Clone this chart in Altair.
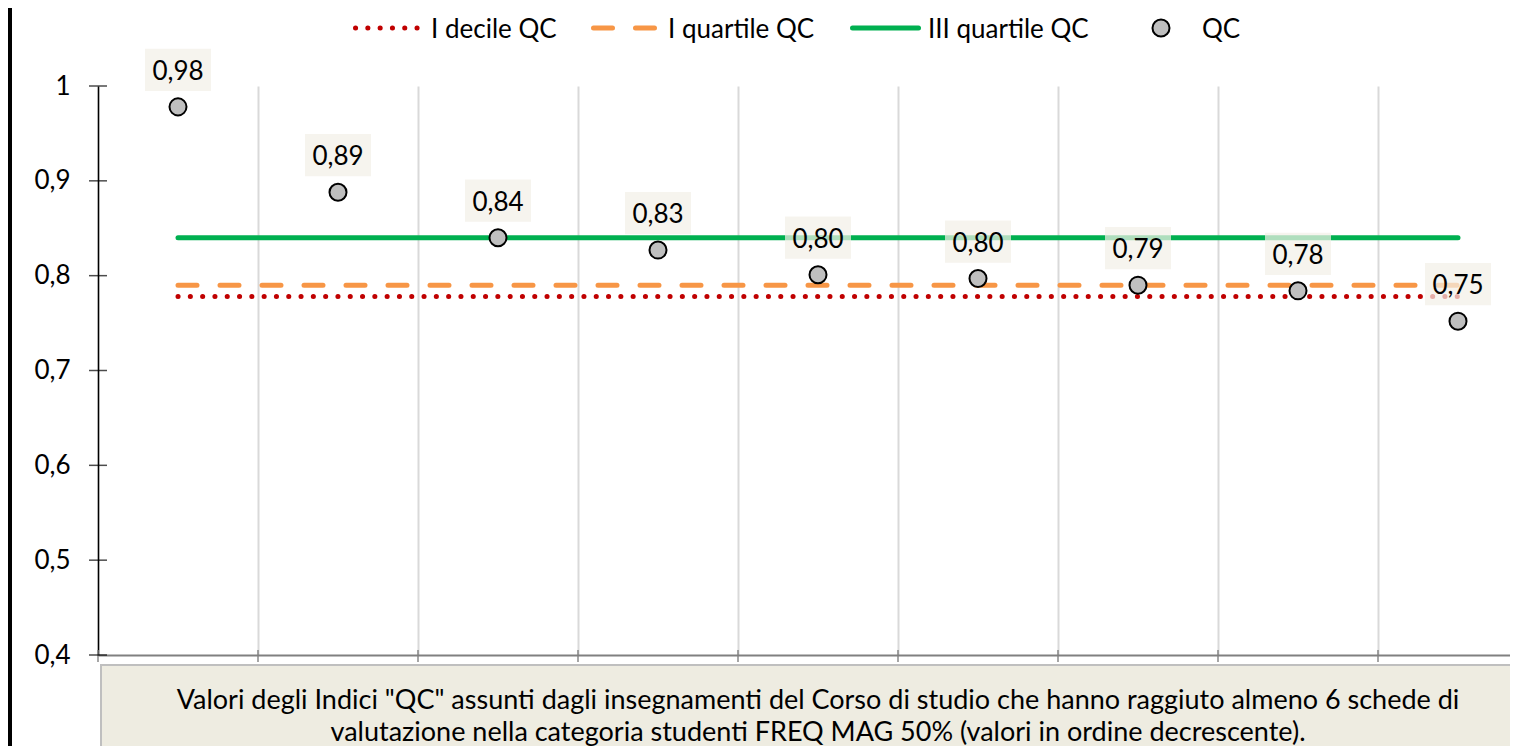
import altair as alt
import pandas as pd

# ---------------- data ----------------
categories = [1, 2, 3, 4, 5, 6, 7, 8, 9]
qc_values = [0.978, 0.888, 0.840, 0.827, 0.801, 0.797, 0.790, 0.784, 0.752]
ref_names = ["I decile QC", "I quartile QC", "III quartile QC"]
ref_values = [0.778, 0.790, 0.840]
y_ticks = [0.4, 0.5, 0.6, 0.7, 0.8, 0.9, 1.0]
x_ticks = [0.5, 1.5, 2.5, 3.5, 4.5, 5.5, 6.5, 7.5, 8.5]
legend_labels = ["I decile QC", "I quartile QC", "III quartile QC", "QC"]
caption_lines = [
    'Valori degli Indici "QC" assunti dagli insegnamenti del Corso di studio che hanno raggiuto almeno 6 schede di',
    "valutazione nella categoria studenti FREQ MAG 50% (valori in ordine decrescente).",
]

FONT = "Lato"
FS = 26
CAP_FS = 27
W, H = 1412, 569
STEP = 160

points = pd.DataFrame({"idx": categories, "value": qc_values})
refs = pd.DataFrame({"name": ref_names, "value": ref_values,
                     "start": [categories[0]] * 3, "end": [categories[-1]] * 3})
yt = pd.DataFrame({"value": y_ticks})
xt = pd.DataFrame({"idx": x_ticks})
one = pd.DataFrame({"a": [0]})

x_scale = alt.Scale(domain=[0.5, 0.5 + W / STEP], nice=False, zero=False)
y_scale = alt.Scale(domain=[0.4, 1.0], nice=False, zero=False)

x_axis = alt.Axis(values=x_ticks, labels=False, title=None, grid=True,
                  gridColor="#D9D9D9", gridWidth=2, domainColor="#808080",
                  domainWidth=2, ticks=False)
y_axis = alt.Axis(values=y_ticks, grid=False, title=None, domainColor="black",
                  domainWidth=1.5, ticks=False,
                  labelPadding=28, labelFontSize=FS, labelFont=FONT,
                  labelColor="black",
                  labelExpr="replace(format(datum.value, '.1~f'), '.', ',')")

# caption box (behind everything)
caption_box = alt.Chart(one).mark_rect(
    fill="#EEECE1", stroke="#BFBFBF", strokeWidth=2
).encode(x=alt.value(3), x2=alt.value(W + 20), y=alt.value(579), y2=alt.value(720))

caption_1 = alt.Chart(one).mark_text(
    text=caption_lines[0], font=FONT, fontSize=CAP_FS, color="black", baseline="middle"
).encode(x=alt.value(720), y=alt.value(615))
caption_2 = alt.Chart(one).mark_text(
    text=caption_lines[1], font=FONT, fontSize=CAP_FS, color="black", baseline="middle"
).encode(x=alt.value(720), y=alt.value(647))

left_bar = alt.Chart(one).mark_rect(color="black").encode(
    x=alt.value(-90), x2=alt.value(-86), y=alt.value(-80), y2=alt.value(H + 100))

# axes carrier (invisible points)
base = alt.Chart(points).mark_point(opacity=0).encode(
    x=alt.X("idx:Q", scale=x_scale, axis=x_axis),
    y=alt.Y("value:Q", scale=y_scale, axis=y_axis))

# crossing tick marks on both axes
y_tick_marks = alt.Chart(yt).mark_tick(color="black", thickness=1.5, size=18).encode(
    y=alt.Y("value:Q", scale=y_scale), x=alt.value(0))
x_tick_marks = alt.Chart(xt).mark_tick(color="#808080", thickness=2, size=12).encode(
    x=alt.X("idx:Q", scale=x_scale), y=alt.value(H + 1))

ref_styles = {
    "I decile QC": dict(color="#C00000", strokeDash=[0.1, 12.2]),
    "I quartile QC": dict(color="#F79646", strokeDash=[19, 23]),
    "III quartile QC": dict(color="#00B050"),
}
ref_layers = []
for nm in ref_names:
    ref_layers.append(
        alt.Chart(refs).transform_filter(alt.datum.name == nm)
        .mark_rule(strokeWidth=5, strokeCap="round", **ref_styles[nm])
        .encode(x=alt.X("start:Q", scale=x_scale), x2="end:Q",
                y=alt.Y("value:Q", scale=y_scale))
    )

dots = alt.Chart(points).mark_point(
    filled=True, fill="#BFBFBF", stroke="black", strokeWidth=2, size=290, opacity=1
).encode(x=alt.X("idx:Q", scale=x_scale), y=alt.Y("value:Q", scale=y_scale))

box_shape = "M-1,-0.64L1,-0.64L1,0.64L-1,0.64Z"
label_boxes = alt.Chart(points).mark_point(
    shape=box_shape, size=4356, filled=True, fill="#F2F0E8", opacity=0.72,
    strokeWidth=0, yOffset=-37
).encode(x=alt.X("idx:Q", scale=x_scale), y=alt.Y("value:Q", scale=y_scale))

label_text = alt.Chart(points).transform_calculate(
    lab="replace(format(datum.value, '.2f'), '.', ',')"
).mark_text(font=FONT, fontSize=FS, color="black", baseline="middle", yOffset=-35).encode(
    x=alt.X("idx:Q", scale=x_scale), y=alt.Y("value:Q", scale=y_scale), text="lab:N")

# manual legend
LY = -58
leg_red = alt.Chart(one).mark_rule(color="#C00000", strokeWidth=5, strokeCap="round",
                                   strokeDash=[0.1, 12.2]).encode(
    x=alt.value(257.5), x2=alt.value(320), y=alt.value(LY))
leg_orange = alt.Chart(one).mark_rule(color="#F79646", strokeWidth=5, strokeCap="round",
                                      strokeDash=[19, 23]).encode(
    x=alt.value(495.5), x2=alt.value(556.5), y=alt.value(LY))
leg_green = alt.Chart(one).mark_rule(color="#00B050", strokeWidth=5, strokeCap="round").encode(
    x=alt.value(754.5), x2=alt.value(820.5), y=alt.value(LY))
leg_dot = alt.Chart(one).mark_point(filled=True, fill="#BFBFBF", stroke="black",
                                    strokeWidth=2, size=290, opacity=1).encode(
    x=alt.value(1063), y=alt.value(LY))
leg_text_x = [333, 570, 830, 1104]
leg_texts = [
    alt.Chart(one).mark_text(text=t, font=FONT, fontSize=FS, color="black",
                             align="left", baseline="middle", dy=2).encode(
        x=alt.value(xx), y=alt.value(LY))
    for t, xx in zip(legend_labels, leg_text_x)
]

chart = alt.layer(
    caption_box, caption_1, caption_2, left_bar, base, x_tick_marks, y_tick_marks,
    *ref_layers, dots, label_boxes, label_text,
    leg_red, leg_orange, leg_green, leg_dot, *leg_texts
).properties(
    width=W, height=H,
    background="white",
    autosize=alt.AutoSizeParams(type="none"),
    padding={"left": 90, "top": 78, "right": 0, "bottom": 91},
).configure_view(stroke=None)

chart.save("out.html", embed_options={"renderer": "svg", "actions": False})
